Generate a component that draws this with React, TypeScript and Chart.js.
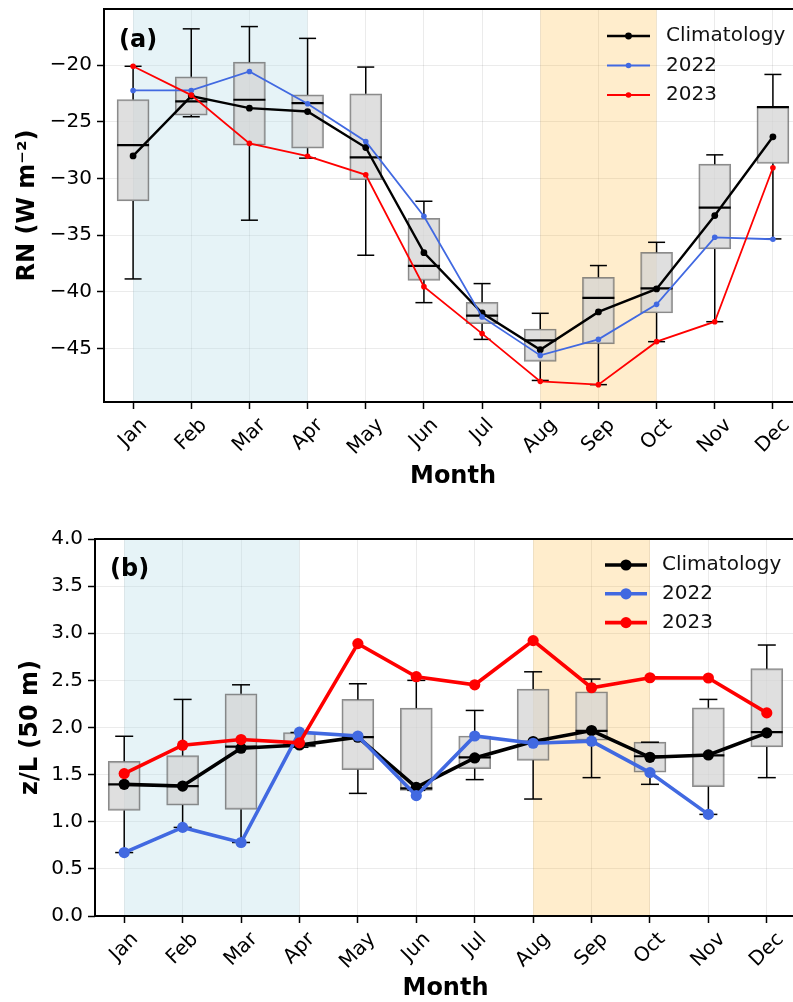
import React, { useEffect, useRef } from 'react';
import { Chart, registerables } from 'chart.js';

Chart.register(...registerables);

// ---------- data ----------
const MONTH_LABELS = ['Jan', 'Feb', 'Mar', 'Apr', 'May', 'Jun', 'Jul', 'Aug', 'Sep', 'Oct', 'Nov', 'Dec'];
const MONTH_NUMS = [1, 2, 3, 4, 5, 6, 7, 8, 9, 10, 11, 12];
const WINTER_SPAN = [1, 4];
const SUMMER_SPAN = [8, 10];

// (a) RN (W m-2)
const RN_LOW = [-38.85, -24.55, -33.67, -28.2, -36.76, -40.94, -44.18, -47.8, -48.17, -44.38, -42.62, -35.32];
const RN_Q1 = [-31.97, -24.4, -27.06, -27.32, -30.1, -38.97, -42.79, -46.12, -44.58, -41.85, -36.2, -28.67];
const RN_MED = [-27.06, -23.2, -23.05, -23.35, -28.14, -37.7, -42.09, -44.26, -40.52, -39.68, -32.56, -23.7];
const RN_Q3 = [-23.03, -21.03, -19.74, -22.62, -22.53, -33.5, -40.91, -43.26, -38.7, -36.5, -28.73, -23.67];
const RN_HIGH = [-20.1, -16.8, -16.6, -17.64, -20.17, -32.0, -39.26, -41.88, -37.67, -35.62, -27.91, -20.82];
const RN_CLIM = [-28.0, -22.73, -23.79, -24.09, -27.26, -36.53, -41.85, -45.09, -41.76, -39.73, -33.26, -26.32];
const RN_2022 = [-22.23, -22.23, -20.56, -23.4, -26.73, -33.32, -42.2, -45.59, -44.18, -41.09, -35.18, -35.35];
const RN_2023 = [-20.1, -22.64, -26.9, -28.03, -29.67, -39.53, -43.67, -47.88, -48.17, -44.38, -42.62, -29.05];
const RN_TICKS = [-45, -40, -35, -30, -25, -20];

// (b) z/L (50 m)
const ZL_LOW = [0.673, 0.94, 0.78, 1.79, 1.301, 1.333, 1.447, 1.241, 1.468, 1.397, 1.078, 1.468];
const ZL_Q1 = [1.12, 1.177, 1.131, 1.79, 1.553, 1.333, 1.564, 1.652, 1.865, 1.525, 1.372, 1.794];
const ZL_MED = [1.397, 1.379, 1.798, 1.809, 1.897, 1.354, 1.684, 1.847, 1.964, 1.695, 1.705, 1.95];
const ZL_Q3 = [1.641, 1.702, 2.357, 1.947, 2.298, 2.206, 1.91, 2.408, 2.379, 1.844, 2.209, 2.624];
const ZL_HIGH = [1.907, 2.298, 2.453, 1.947, 2.464, 2.5, 2.181, 2.591, 2.514, 1.844, 2.298, 2.875];
const ZL_CLIM = [1.397, 1.379, 1.78, 1.815, 1.897, 1.365, 1.677, 1.851, 1.968, 1.684, 1.709, 1.943];
const ZL_2022 = [0.673, 0.94, 0.78, 1.95, 1.91, 1.277, 1.91, 1.833, 1.855, 1.521, 1.078, null];
const ZL_2023 = [1.511, 1.812, 1.872, 1.837, 2.89, 2.539, 2.453, 2.922, 2.422, 2.528, 2.525, 2.155];
const ZL_TICKS = [0, 0.5, 1, 1.5, 2, 2.5, 3, 3.5, 4];

const SERIES_NAMES = ['Climatology', '2022', '2023'];

// ---------- styling ----------
const FONT = 'DejaVu Sans';
const CANVAS_W = 830;
const CANVAS_H = 501;
const GRID = 'rgba(0,0,0,0.08)';
const COLORS = ['#000000', '#4169e1', '#ff0000'];

type Num = number | null;
interface PanelSpec {
  letter: string;
  yTitle: string;
  titlePad: number;
  low: number[]; q1: number[]; med: number[]; q3: number[]; high: number[];
  series: Num[][];
  yTicks: number[]; yMin: number; yMax: number;
  fmt: (v: number) => string;
  area: { left: number; right: number; top: number; bottom: number };
  lineW: number[]; pointR: number[];
  boxW: number; capW: number;
  legend: { x0: number; x1: number; tx: number; y0: number; dy: number };
  letterPos: { x: number; y: number };
  monthY: number;
}

const PANEL_A: PanelSpec = {
  letter: '(a)',
  yTitle: 'RN (W m\u207B\u00B2)',
  titlePad: 13,
  low: RN_LOW, q1: RN_Q1, med: RN_MED, q3: RN_Q3, high: RN_HIGH,
  series: [RN_CLIM, RN_2022, RN_2023],
  yTicks: RN_TICKS, yMin: -49.7, yMax: -15.05,
  fmt: (v) => (v < 0 ? '\u2212' + Math.abs(v) : String(v)),
  area: { left: 104, right: 802, top: 9, bottom: 402 },
  lineW: [2.4, 1.8, 1.8], pointR: [3.4, 2.8, 2.8],
  boxW: 32, capW: 17,
  legend: { x0: 607, x1: 650, tx: 666, y0: 36, dy: 29.5 },
  letterPos: { x: 119, y: 41 },
  monthY: 477,
};

const PANEL_B: PanelSpec = {
  letter: '(b)',
  yTitle: 'z/L (50 m)',
  titlePad: 16,
  low: ZL_LOW, q1: ZL_Q1, med: ZL_MED, q3: ZL_Q3, high: ZL_HIGH,
  series: [ZL_CLIM, ZL_2022, ZL_2023],
  yTicks: ZL_TICKS, yMin: 0, yMax: 4,
  fmt: (v) => v.toFixed(1),
  area: { left: 95, right: 796, top: 38, bottom: 415 },
  lineW: [3.6, 3.6, 3.6], pointR: [5.6, 5.6, 5.6],
  boxW: 32, capW: 18,
  legend: { x0: 605, x1: 647, tx: 662, y0: 64, dy: 28.8 },
  letterPos: { x: 110, y: 69 },
  monthY: 488,
};

function seg(ctx: CanvasRenderingContext2D, x0: number, y0: number, x1: number, y1: number) {
  ctx.beginPath();
  ctx.moveTo(x0, y0);
  ctx.lineTo(x1, y1);
  ctx.stroke();
}

function makePlugin(p: PanelSpec) {
  return {
    id: 'decor' + p.letter.replace(/[()]/g, ''),
    beforeDatasetsDraw(chart: any) {
      const { ctx, chartArea: a, scales } = chart;
      const x = scales.x;
      ctx.save();
      const bands: [number[], string][] = [
        [WINTER_SPAN, 'rgba(173,216,230,0.3)'],
        [SUMMER_SPAN, 'rgba(255,165,0,0.2)'],
      ];
      for (const [span, color] of bands) {
        const x0 = x.getPixelForValue(span[0]);
        const x1 = x.getPixelForValue(span[1]);
        ctx.fillStyle = color;
        ctx.fillRect(x0, a.top, x1 - x0, a.bottom - a.top);
      }
      ctx.restore();
    },
    afterDatasetDraw(chart: any, args: any) {
      if (args.index !== 0) return;
      const { ctx, scales } = chart;
      const x = scales.x;
      const y = scales.y;
      ctx.save();
      ctx.strokeStyle = '#000';
      MONTH_NUMS.forEach((m, i) => {
        const px = x.getPixelForValue(m);
        const yl = y.getPixelForValue(p.low[i]);
        const y1 = y.getPixelForValue(p.q1[i]);
        const y3 = y.getPixelForValue(p.q3[i]);
        const yh = y.getPixelForValue(p.high[i]);
        const ym = y.getPixelForValue(p.med[i]);
        ctx.lineWidth = 1.5;
        seg(ctx, px, y1, px, yl);
        seg(ctx, px, y3, px, yh);
        seg(ctx, px - p.capW / 2, yl, px + p.capW / 2, yl);
        seg(ctx, px - p.capW / 2, yh, px + p.capW / 2, yh);
        ctx.lineWidth = 2.2;
        seg(ctx, px - p.boxW / 2, ym, px + p.boxW / 2, ym);
      });
      ctx.restore();
    },
    afterDraw(chart: any) {
      const { ctx, chartArea: a, scales } = chart;
      const x = scales.x;
      ctx.save();
      // frame
      ctx.strokeStyle = '#000';
      ctx.lineWidth = 2;
      ctx.strokeRect(a.left, a.top, a.right - a.left, a.bottom - a.top);

      // rotated month tick labels
      ctx.fillStyle = '#000';
      ctx.font = `20px "${FONT}"`;
      const h = 20 * 1.164;
      const y0 = a.bottom + 12;
      MONTH_NUMS.forEach((m, i) => {
        const label = MONTH_LABELS[i];
        const w = ctx.measureText(label).width;
        const px = x.getPixelForValue(m);
        const cy = y0 + (w + h) / (2 * Math.SQRT2);
        ctx.save();
        ctx.translate(px, cy);
        ctx.rotate(-Math.PI / 4);
        ctx.textAlign = 'center';
        ctx.textBaseline = 'middle';
        ctx.fillText(label, 0, 0);
        ctx.restore();
      });

      // x-axis title
      ctx.font = `bold 24px "${FONT}"`;
      ctx.textAlign = 'center';
      ctx.textBaseline = 'middle';
      ctx.fillText('Month', (a.left + a.right) / 2, p.monthY);

      // panel letter
      ctx.font = `bold 24px "${FONT}"`;
      ctx.textAlign = 'left';
      ctx.fillText(p.letter, p.letterPos.x, p.letterPos.y);

      // legend
      const L = p.legend;
      SERIES_NAMES.forEach((name, k) => {
        const yy = L.y0 + k * L.dy;
        ctx.strokeStyle = COLORS[k];
        ctx.fillStyle = COLORS[k];
        ctx.lineWidth = p.lineW[k];
        seg(ctx, L.x0, yy, L.x1, yy);
        ctx.beginPath();
        ctx.arc((L.x0 + L.x1) / 2, yy, p.pointR[k], 0, Math.PI * 2);
        ctx.fill();
        ctx.fillStyle = '#111';
        ctx.font = `20px "${FONT}"`;
        ctx.textAlign = 'left';
        ctx.textBaseline = 'middle';
        ctx.fillText(name, L.tx, yy);
      });
      ctx.restore();
    },
  };
}

function buildConfig(p: PanelSpec): any {
  const pts = (arr: Num[]) => MONTH_NUMS.map((m, i) => ({ x: m, y: arr[i] }));
  const lineSets = p.series.map((arr, k) => ({
    type: 'line',
    label: SERIES_NAMES[k],
    data: pts(arr),
    borderColor: COLORS[k],
    backgroundColor: COLORS[k],
    borderWidth: p.lineW[k],
    pointRadius: p.pointR[k],
    pointBorderWidth: 0,
    pointHoverRadius: p.pointR[k],
    tension: 0,
    spanGaps: false,
    order: 3 - k,
  }));
  return {
    type: 'line',
    data: {
      datasets: [
        {
          type: 'bar',
          label: 'IQR',
          data: MONTH_NUMS.map((m, i) => ({ x: m, y: [p.q1[i], p.q3[i]] })),
          backgroundColor: 'rgba(211,211,211,0.72)',
          borderColor: 'rgba(100,100,100,0.75)',
          borderWidth: 1.5,
          borderSkipped: false,
          barThickness: p.boxW,
          grouped: false,
          order: 10,
        },
        ...lineSets,
      ],
    },
    options: {
      responsive: false,
      animation: false,
      devicePixelRatio: 1,
      events: [],
      layout: { padding: { left: 0, top: p.area.top, right: CANVAS_W - p.area.right, bottom: 0 } },
      plugins: { legend: { display: false }, tooltip: { enabled: false } },
      scales: {
        x: {
          type: 'linear',
          min: 0.5,
          max: 12.5,
          offset: false,
          afterBuildTicks: (s: any) => {
            s.ticks = MONTH_NUMS.map((v) => ({ value: v }));
          },
          afterFit: (s: any) => {
            s.height = CANVAS_H - p.area.bottom;
            s.paddingLeft = 0;
            s.paddingRight = 0;
          },
          ticks: { display: false },
          grid: { offset: false, color: GRID, lineWidth: 1, drawTicks: true, tickLength: 7, tickColor: '#000', tickWidth: 1.5 },
          border: { display: false },
        },
        y: {
          type: 'linear',
          min: p.yMin,
          max: p.yMax,
          afterBuildTicks: (s: any) => {
            s.ticks = p.yTicks.map((v) => ({ value: v }));
          },
          afterFit: (s: any) => {
            s.width = p.area.left;
            s.paddingTop = 0;
            s.paddingBottom = 0;
          },
          ticks: {
            callback: (v: any) => p.fmt(Number(v)),
            font: { family: FONT, size: 20 },
            color: '#000',
            padding: 5,
          },
          grid: { offset: false, color: GRID, lineWidth: 1, drawTicks: true, tickLength: 7, tickColor: '#000', tickWidth: 1.5 },
          border: { display: false },
          title: {
            display: true,
            text: p.yTitle,
            font: { family: FONT, size: 24, weight: 'bold' },
            color: '#000',
            padding: { top: p.titlePad, bottom: 0 },
          },
        },
      },
    },
    plugins: [makePlugin(p)],
  };
}

export default function App() {
  const refA = useRef<HTMLCanvasElement>(null);
  const refB = useRef<HTMLCanvasElement>(null);

  useEffect(() => {
    const ca = new Chart(refA.current as HTMLCanvasElement, buildConfig(PANEL_A));
    const cb = new Chart(refB.current as HTMLCanvasElement, buildConfig(PANEL_B));
    return () => {
      ca.destroy();
      cb.destroy();
    };
  }, []);

  const cs: React.CSSProperties = { position: 'absolute', left: 0, width: CANVAS_W, height: CANVAS_H, display: 'block' };
  return (
    <div style={{ position: 'absolute', left: 0, top: 0, width: 793, height: 1002, overflow: 'hidden', background: '#fff' }}>
      <canvas ref={refA} width={CANVAS_W} height={CANVAS_H} style={{ ...cs, top: 0 }} />
      <canvas ref={refB} width={CANVAS_W} height={CANVAS_H} style={{ ...cs, top: CANVAS_H }} />
    </div>
  );
}
